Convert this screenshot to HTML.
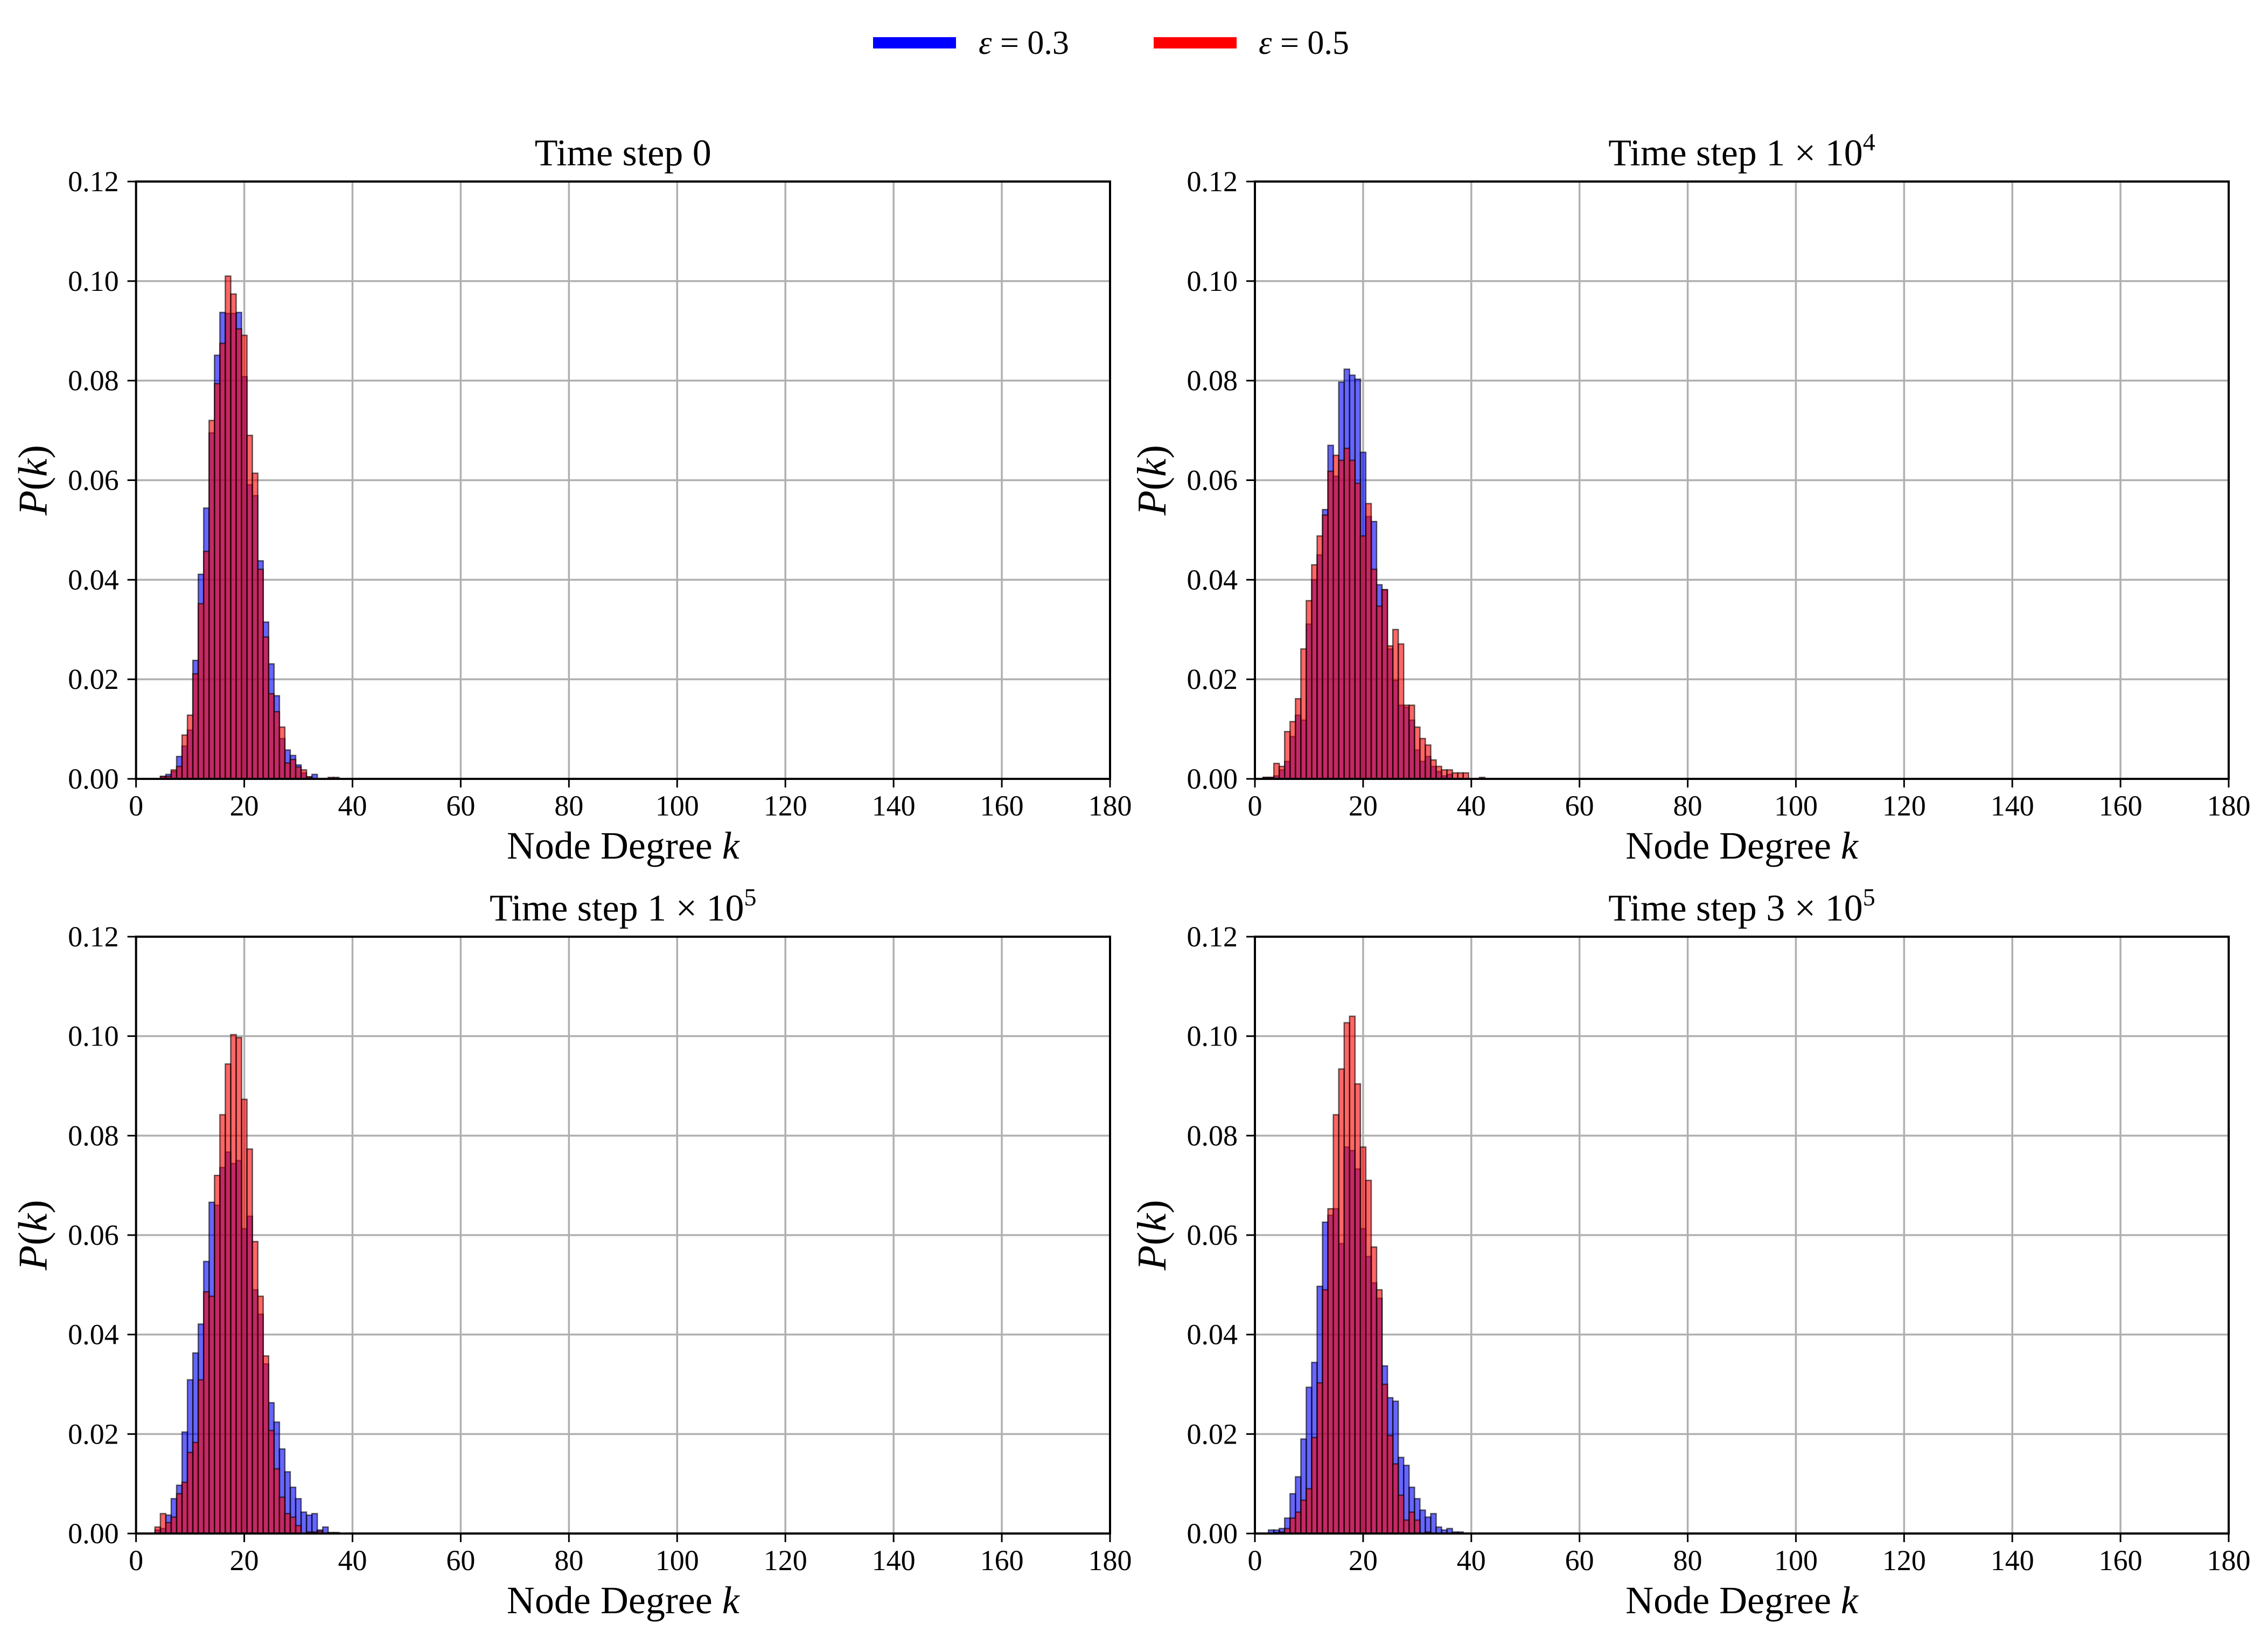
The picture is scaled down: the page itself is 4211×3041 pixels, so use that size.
<!DOCTYPE html>
<html><head><meta charset="utf-8">
<style>
html,body{margin:0;padding:0;background:#fff;}
svg{display:block;}
text{font-family:"Liberation Serif",serif;fill:#000;}
</style></head>
<body>
<svg id="fig" width="4211" height="3041" viewBox="0 0 4211 3041" xmlns="http://www.w3.org/2000/svg">
<rect x="0" y="0" width="4211" height="3041" fill="#fff"/>
<g>
  <rect x="1621" y="69" width="154" height="21" fill="#0000ff"/>
  <text x="1817" y="100" font-size="62" font-style="italic">ε <tspan font-style="normal">= 0.3</tspan></text>
  <rect x="2142" y="69" width="154" height="21" fill="#ff0000"/>
  <text x="2337" y="100" font-size="62" font-style="italic">ε <tspan font-style="normal">= 0.5</tspan></text>
</g>
<g id="panels"></g>
</svg>
<script>
// Panel titles
const titles = ["Time step 0", "Time step 1 × 10", "Time step 1 × 10", "Time step 3 × 10"];
const titleSup = ["", "4", "5", "5"];
// Data: start degree k for first bin, then P(k) for consecutive integer k
const p0Start = 5;
const p0Blue = [0.0005,0.0009,0.0015,0.0045,0.0066,0.0098,0.0238,0.0411,0.0544,0.0695,0.0851,0.0937,0.0935,0.0935,0.0937,0.0808,0.0591,0.0569,0.0438,0.0315,0.0231,0.0167,0.0081,0.0058,0.0047,0.0028,0.0012,0.0004,0.0009,0,0,0,0];
const p0Red  = [0.0005,0.0005,0.0018,0.0025,0.0088,0.0128,0.0211,0.0352,0.0457,0.0720,0.0794,0.0875,0.1010,0.0974,0.0904,0.0891,0.0690,0.0614,0.0421,0.0285,0.0171,0.0135,0.0104,0.0032,0.0039,0.0024,0.0018,0.0004,0,0,0,0.0003,0.0003];
const p1Start = 2;
const p1Blue = [0.0003,0.0003,0.0006,0.0018,0.0035,0.0085,0.0128,0.0118,0.0311,0.0400,0.0450,0.0541,0.0670,0.0608,0.0797,0.0823,0.0811,0.0803,0.0656,0.0527,0.0517,0.0390,0.0380,0.0261,0.0198,0.0148,0.0144,0.0118,0.0058,0.0035,0.0045,0.0025,0.0015,0.0006,0.0009,0,0,0,0,0,0];
const p1Red  = [0.0003,0.0003,0.0031,0.0025,0.0095,0.0115,0.0161,0.0261,0.0358,0.0430,0.0488,0.0530,0.0618,0.0650,0.0640,0.0664,0.0640,0.0594,0.0488,0.0553,0.0421,0.0347,0.0380,0.0267,0.0300,0.0271,0.0148,0.0148,0.0104,0.0081,0.0068,0.0038,0.0025,0.0018,0.0018,0.0012,0.0012,0.0012,0,0,0.0003];
const p2Start = 4;
const p2Blue = [0.0007,0.0010,0.0037,0.0070,0.0097,0.0204,0.0309,0.0363,0.0421,0.0547,0.0666,0.0660,0.0736,0.0767,0.0744,0.0750,0.0613,0.0638,0.0490,0.0441,0.0341,0.0263,0.0224,0.0170,0.0124,0.0093,0.0070,0.0043,0.0037,0.0040,0.0007,0.0013,0.0002,0.0002];
const p2Red  = [0.0013,0.0040,0.0022,0.0033,0.0080,0.0103,0.0163,0.0183,0.0309,0.0486,0.0477,0.0720,0.0842,0.0944,0.1003,0.0997,0.0873,0.0773,0.0587,0.0477,0.0357,0.0207,0.0130,0.0073,0.0040,0.0033,0.0016,0,0.0003,0.0003,0.0005,0,0,0];
const p3Start = 3;
const p3Blue = [0.0007,0.0007,0.0010,0.0031,0.0080,0.0114,0.0190,0.0294,0.0344,0.0497,0.0626,0.0640,0.0653,0.0583,0.0777,0.0770,0.0733,0.0613,0.0557,0.0504,0.0473,0.0337,0.0273,0.0266,0.0153,0.0137,0.0093,0.0070,0.0047,0.0033,0.0040,0.0013,0.0007,0.0010,0.0003,0.0003];
const p3Red  = [0,0.0002,0.0003,0.0010,0.0031,0.0043,0.0067,0.0090,0.0193,0.0303,0.0490,0.0653,0.0842,0.0934,0.1027,0.1040,0.0904,0.0777,0.0710,0.0576,0.0490,0.0300,0.0197,0.0140,0.0077,0.0027,0.0043,0.0027,0,0.0003,0,0,0,0,0,0];
const xTicks = [0,20,40,60,80,100,120,140,160,180];
const yTicks = [0,0.02,0.04,0.06,0.08,0.10,0.12];

const starts = [p0Start,p1Start,p2Start,p3Start];
const blues = [p0Blue,p1Blue,p2Blue,p3Blue];
const reds = [p0Red,p1Red,p2Red,p3Red];
const NS = "http://www.w3.org/2000/svg";
const root = document.getElementById('panels');
const boxes = [[252.6,337,2061,1446],[2330,337,4138,1446],[252.6,1739,2061,2847],[2330,1739,4138,2847]];

function mk(tag, attrs, parent){
  const e = document.createElementNS(NS, tag);
  for (const k in attrs) e.setAttribute(k, attrs[k]);
  parent.appendChild(e);
  return e;
}

boxes.forEach((b, i) => {
  const [x0,y0,x1,y1] = b;
  const xs = v => x0 + (v/180)*(x1-x0);
  const ys = v => y1 - (v/0.12)*(y1-y0);
  const g = mk('g', {}, root);
  
  
  // grid
  xTicks.forEach(t => {
    const l = mk('line', {x1:xs(t),x2:xs(t),y1:y0,y2:y1,stroke:'#b0b0b0','stroke-width':3.5}, g);
    
    
  });
  yTicks.forEach(t => {
    const l = mk('line', {x1:x0,x2:x1,y1:ys(t),y2:ys(t),stroke:'#b0b0b0','stroke-width':3.5}, g);
    
    
  });
  // bars
  const w = xs(1) - xs(0);
  [[blues[i],'rgba(0,0,255,0.6)','blue'],[reds[i],'rgba(255,0,0,0.6)','red']].forEach(([arr,col,nm]) => {
    arr.forEach((v, j) => {
      if (v <= 0) return;
      const k = starts[i] + j;
      const r = mk('rect', {x:xs(k-0.5), y:ys(v), width:w, height:ys(0)-ys(v), fill:col, stroke:'rgba(0,0,0,0.6)','stroke-width':2.5}, g);
      
      
    });
  });
  // spines
  const sp = mk('rect', {x:x0,y:y0,width:x1-x0,height:y1-y0,fill:'none',stroke:'#000','stroke-width':4}, g);
  
  
  // ticks and labels
  xTicks.forEach(t => {
    mk('line', {x1:xs(t),x2:xs(t),y1:y1,y2:y1+16,stroke:'#000','stroke-width':3}, g);
    const tx = mk('text', {x:xs(t), y:y1+68, 'font-size':54, 'text-anchor':'middle'}, g);
    tx.textContent = String(t);
    
    
  });
  yTicks.forEach(t => {
    mk('line', {x1:x0-16,x2:x0,y1:ys(t),y2:ys(t),stroke:'#000','stroke-width':3}, g);
    const tx = mk('text', {x:x0-32, y:ys(t)+18, 'font-size':54, 'text-anchor':'end'}, g);
    tx.textContent = t.toFixed(2);
    
    
  });
  // x label
  const xl = mk('text', {x:(x0+x1)/2, y:y1+148, 'font-size':72, 'text-anchor':'middle'}, g);
  xl.innerHTML = 'Node Degree <tspan font-style="italic">k</tspan>';
  
  
  // y label
  const yl = mk('text', {x:0, y:0, 'font-size':76, 'text-anchor':'middle', 'font-style':'italic', transform:'translate(' + (x0-166) + ',' + ((y0+y1)/2) + ') rotate(-90)'}, g);
  yl.innerHTML = 'P<tspan font-style="normal">(</tspan>k<tspan font-style="normal">)</tspan>';
  
  
  // title
  const tt = mk('text', {x:(x0+x1)/2, y:y0-30, 'font-size':70, 'text-anchor':'middle'}, g);
  tt.innerHTML = titles[i] + (titleSup[i] ? '<tspan dy="-28" font-size="46">' + titleSup[i] + '</tspan>' : '');
  
  
});
</script>
</body></html>
